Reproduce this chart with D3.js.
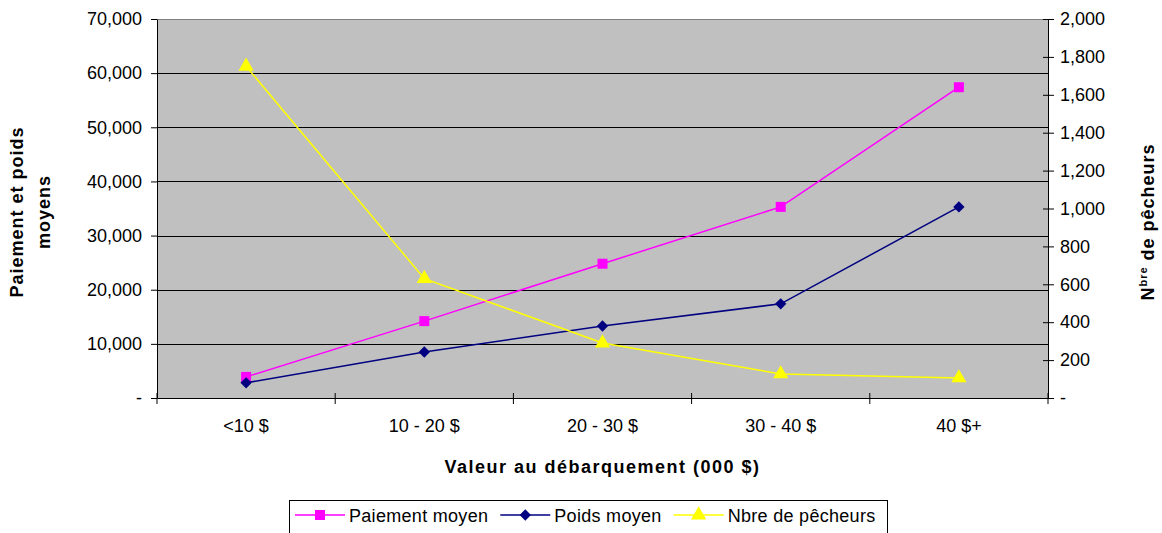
<html>
<head>
  <meta charset="utf8">
  <title>Paiement et poids moyens</title>
  <style>
  * { margin: 0; padding: 0; }
  body { background: #fff; }
  text { font-family: "Liberation Sans", Arial, sans-serif; }
  </style>
</head>
<body>
<script src="https://cdn.jsdelivr.net/npm/d3@7"></script>
<script>
// data
var categories = ['<10 $', '10 - 20 $', '20 - 30 $', '30 - 40 $', '40 $+']
var paiement = [3900, 14200, 24800, 35300, 57400]
var poids = [2800, 8500, 13300, 17400, 35300]
var pecheurs = [1750, 630, 290, 127, 106]
var leftTicks = [0, 10000, 20000, 30000, 40000, 50000, 60000, 70000]
var rightTicks = [0, 200, 400, 600, 800, 1000, 1200, 1400, 1600, 1800, 2000]

var W = 1162, H = 533
var plot = {left: 157, right: 1048, top: 19, bottom: 398}

var svg = d3.select('body').append('svg')
  .attr('width', W).attr('height', H)

var x = d3.scaleBand().domain(categories).range([plot.left, plot.right])
var yL = d3.scaleLinear().domain([0, 70000]).range([plot.bottom, plot.top])
var yR = d3.scaleLinear().domain([0, 2000]).range([plot.bottom, plot.top])

var fmt = function (v) { return v === 0 ? '-' : d3.format(',')(v) }

// plot background
svg.append('rect')
  .attr('x', plot.left).attr('y', plot.top)
  .attr('width', plot.right - plot.left).attr('height', plot.bottom - plot.top)
  .attr('fill', '#c0c0c0')
svg.append('line')
  .attr('x1', plot.left).attr('x2', plot.right)
  .attr('y1', plot.top + 0.5).attr('y2', plot.top + 0.5)
  .attr('stroke', '#808080')

// gridlines
svg.append('g').selectAll('line')
  .data(leftTicks.slice(1, -1))
  .enter().append('line')
  .attr('x1', plot.left).attr('x2', plot.right)
  .attr('y1', d => Math.round(yL(d)) + 0.5).attr('y2', d => Math.round(yL(d)) + 0.5)
  .attr('stroke', '#000')

// axes
var axL = svg.append('g')
  .attr('transform', 'translate(' + plot.left + ',0)')
  .call(d3.axisLeft(yL).tickValues(leftTicks).tickFormat(fmt).tickSizeOuter(0).tickSizeInner(6).tickPadding(9))
var axR = svg.append('g')
  .attr('transform', 'translate(' + plot.right + ',0)')
  .call(d3.axisRight(yR).tickValues(rightTicks).tickFormat(fmt).tickSizeOuter(0).tickSizeInner(6).tickPadding(6))
axR.selectAll('.tick line').attr('x1', -5)

var bandEdges = categories.map(c => x(c)).concat([plot.right])
var axB = svg.append('g')
  .attr('transform', 'translate(0,' + plot.bottom + ')')
  .call(d3.axisBottom(x).tickSizeOuter(0).tickSize(0).tickPadding(21))
axB.selectAll('.tick text').attr('dy', '0.71em')
axB.selectAll('.edge')
  .data(bandEdges)
  .enter().append('line')
  .attr('x1', d => d).attr('x2', d => d)
  .attr('y1', -5).attr('y2', 6)
  .attr('stroke', '#000')

svg.selectAll('.domain').attr('stroke', '#000')
svg.selectAll('.tick line').attr('stroke', '#000')
svg.selectAll('.tick text')
  .attr('font-size', 18)
  .attr('font-family', '"Liberation Sans", Arial, sans-serif')
  .attr('fill', '#000')

// series
var series = [
  {name: 'Paiement moyen', values: paiement, y: yL, color: '#ff00ff', shape: d3.symbolSquare, size: 100, rot: 0},
  {name: 'Poids moyen', values: poids, y: yL, color: '#000080', shape: d3.symbolSquare, size: 64, rot: 45},
  {name: 'Nbre de pêcheurs', values: pecheurs, y: yR, color: '#ffff00', shape: d3.symbolTriangle, size: 100, rot: 0}
]
var cx = c => x(c) + x.bandwidth() / 2

series.forEach(function (s) {
  var line = d3.line()
    .x((d, i) => cx(categories[i]))
    .y(d => s.y(d))
  svg.append('path')
    .datum(s.values)
    .attr('d', line)
    .attr('fill', 'none')
    .attr('stroke', s.color)
    .attr('stroke-width', 1.5)
  svg.append('g').selectAll('path')
    .data(s.values)
    .enter().append('path')
    .attr('d', d3.symbol().type(s.shape).size(s.size))
    .attr('transform', (d, i) => 'translate(' + cx(categories[i]) + ',' + s.y(d) + ') rotate(' + s.rot + ')')
    .attr('fill', s.color)
})

// axis titles
svg.append('text')
  .attr('x', (plot.left + plot.right) / 2).attr('y', 473)
  .attr('text-anchor', 'middle').attr('font-size', 18).attr('font-weight', 'bold')
  .attr('letter-spacing', 1.5)
  .text('Valeur au débarquement (000 $)')

var lt = svg.append('text')
  .attr('transform', 'translate(0,212) rotate(-90)')
  .attr('text-anchor', 'middle').attr('font-size', 18).attr('font-weight', 'bold')
  .attr('letter-spacing', 1)
lt.append('tspan').attr('x', 0).attr('y', 23).text('Paiement et poids')
lt.append('tspan').attr('x', 0).attr('y', 50).text('moyens')

var rt = svg.append('text')
  .attr('transform', 'translate(1154,222) rotate(-90)')
  .attr('text-anchor', 'middle').attr('font-size', 18).attr('font-weight', 'bold')
  .attr('letter-spacing', 1)
rt.append('tspan').text('N')
rt.append('tspan').attr('font-size', 11).attr('dy', -7).text('bre')
rt.append('tspan').attr('dy', 7).text(' de pêcheurs')

// legend
var lg = svg.append('g').attr('transform', 'translate(289,500)')
lg.append('rect')
  .attr('x', 0.5).attr('y', 0.5).attr('width', 598).attr('height', 40)
  .attr('fill', '#fff').attr('stroke', '#000')
var lx = 6
series.forEach(function (s) {
  var g = lg.append('g').attr('transform', 'translate(' + lx + ',15)')
  g.append('line').attr('x1', 0).attr('x2', 50).attr('stroke', s.color).attr('stroke-width', 1.5)
  g.append('path').attr('d', d3.symbol().type(s.shape).size(s.size))
    .attr('transform', 'translate(25,0) rotate(' + s.rot + ')').attr('fill', s.color)
  var t = g.append('text').attr('x', 54).attr('y', 7).attr('font-size', 18)
    .attr('letter-spacing', 0.3).text(s.name)
  lx += 54 + t.node().getComputedTextLength() + 12
})
</script>
</body>
</html>
